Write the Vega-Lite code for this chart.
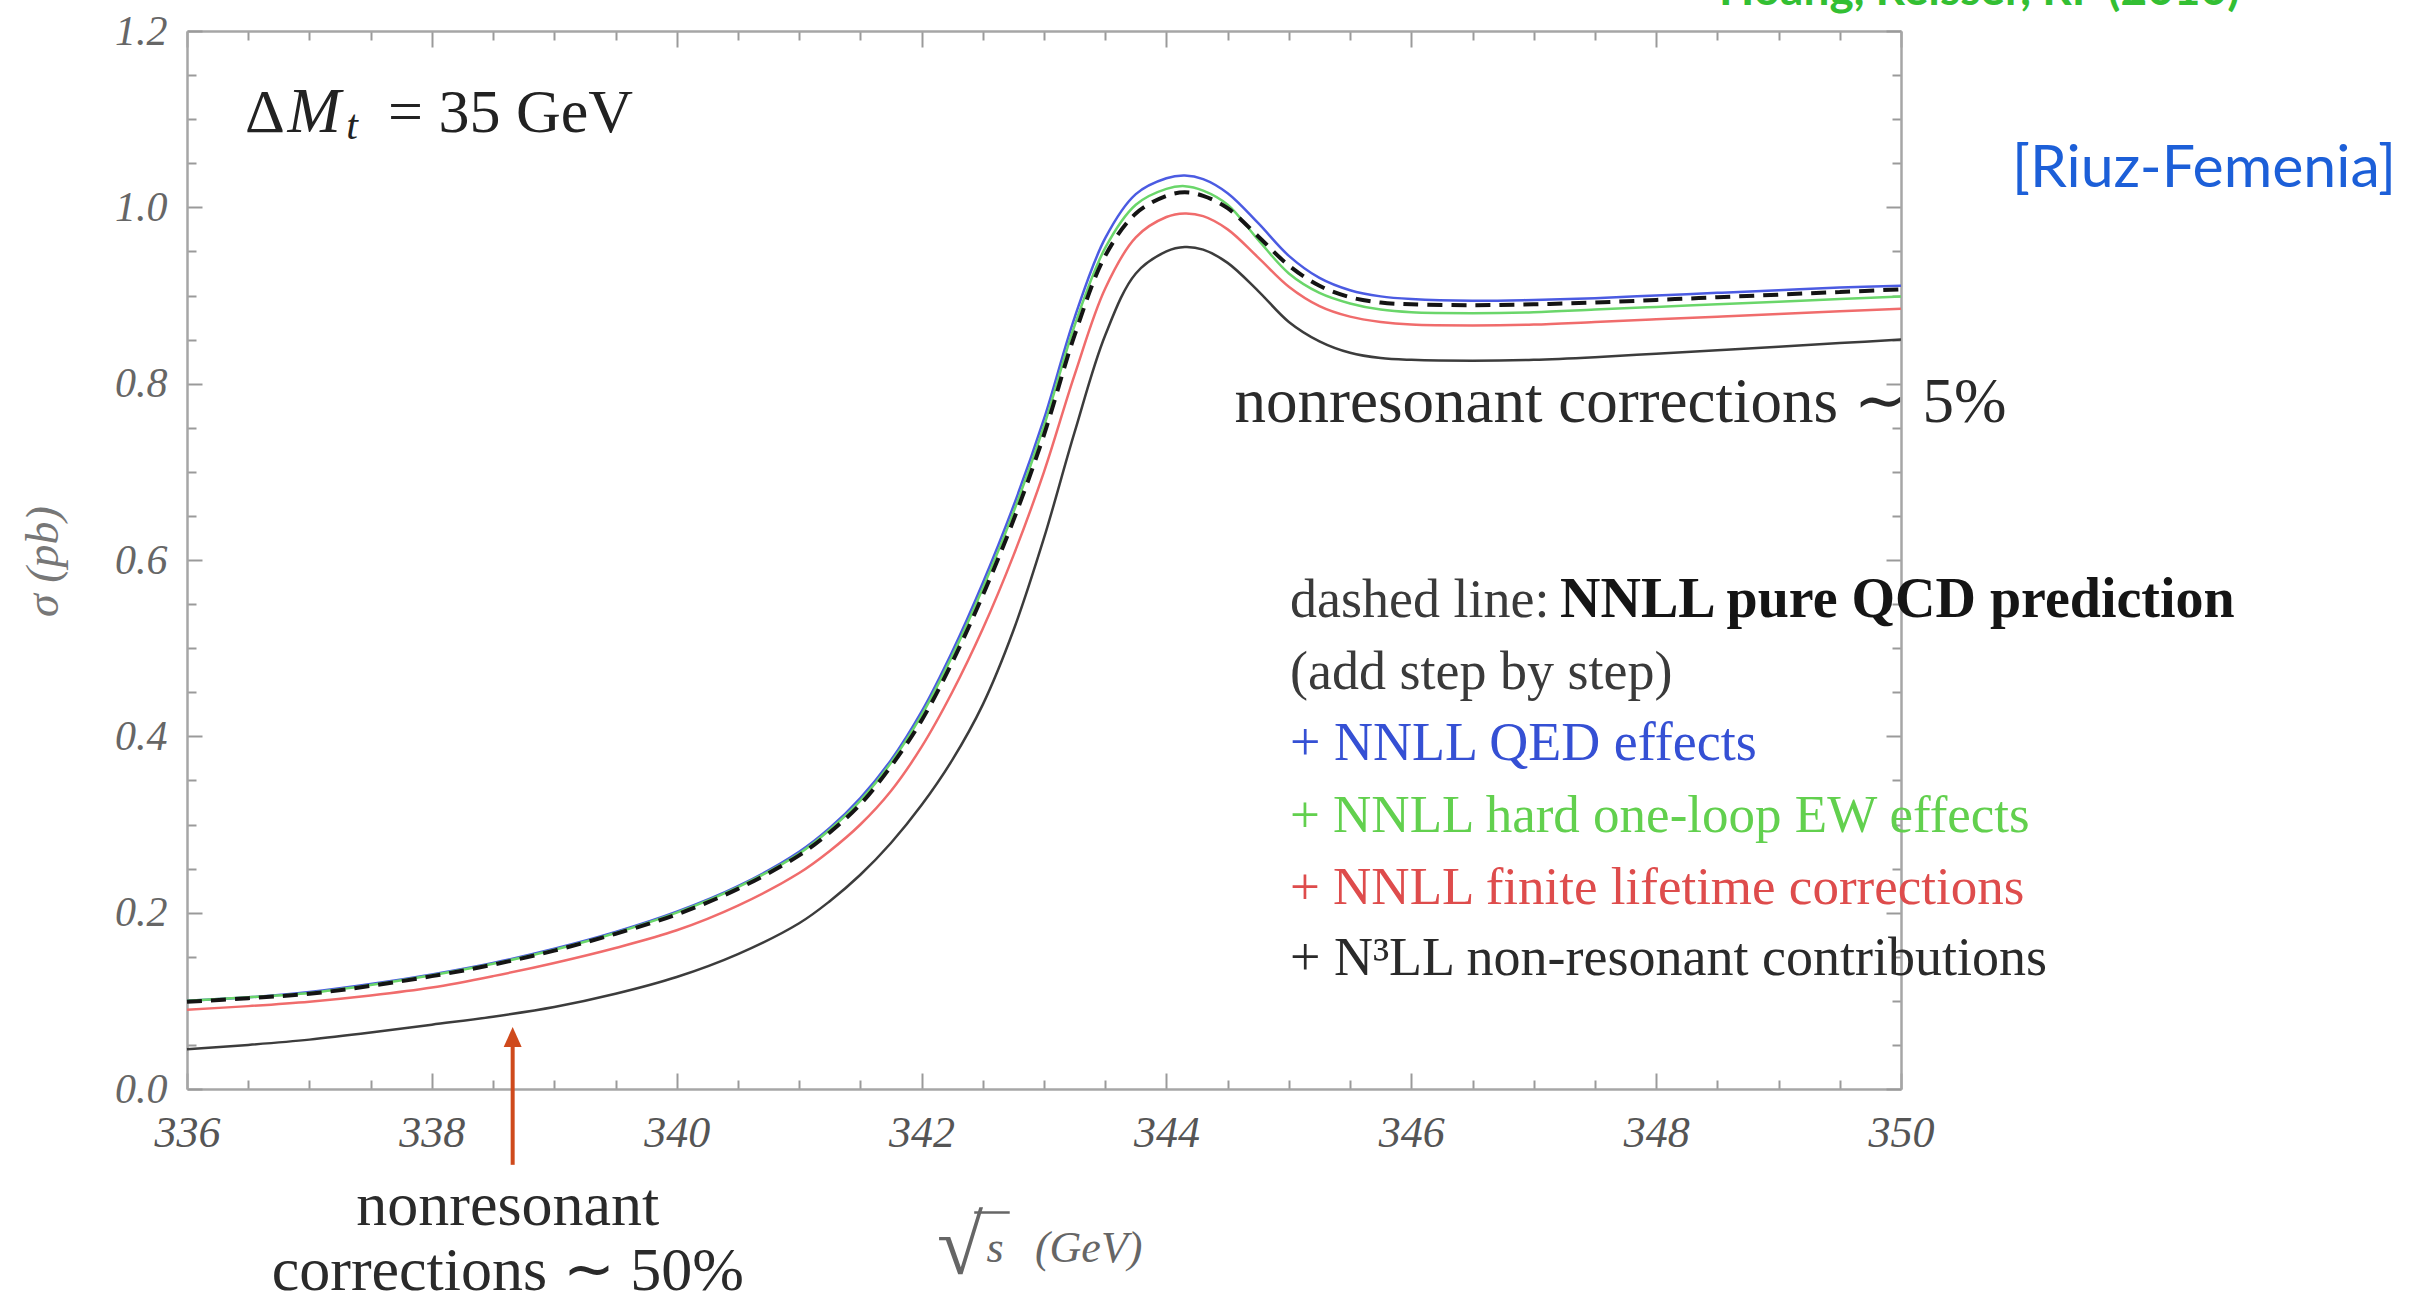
{
  "$schema": "https://vega.github.io/schema/vega-lite/v6.json",
  "width": 1714,
  "height": 1058,
  "autosize": {"type": "none"},
  "padding": {"left": 187, "top": 31, "right": 517, "bottom": 213},
  "background": "white",
  "config": {
    "view": {"stroke": null},
    "axis": {
      "grid": false,
      "domainColor": "#a6a6a6",
      "domainWidth": 2.5,
      "tickColor": "#9a9a9a",
      "tickWidth": 2,
      "labelFont": "Liberation Serif",
      "labelFontStyle": "italic",
      "labelColor": "#555555",
      "labelOverlap": false,
      "labelFlush": false,
      "labelBound": false
    }
  },
  "datasets": {
    "curves": [
      {"s": 336, "QED": 0.100, "EW": 0.100, "QCD": 0.099, "FL": 0.090, "N3LL": 0.045},
      {"s": 336.5, "QED": 0.104, "EW": 0.104, "QCD": 0.103, "FL": 0.094, "N3LL": 0.050},
      {"s": 337, "QED": 0.110, "EW": 0.109, "QCD": 0.108, "FL": 0.099, "N3LL": 0.056},
      {"s": 337.5, "QED": 0.119, "EW": 0.118, "QCD": 0.117, "FL": 0.106, "N3LL": 0.064},
      {"s": 338, "QED": 0.130, "EW": 0.129, "QCD": 0.128, "FL": 0.115, "N3LL": 0.073},
      {"s": 338.5, "QED": 0.143, "EW": 0.142, "QCD": 0.141, "FL": 0.128, "N3LL": 0.082},
      {"s": 339, "QED": 0.159, "EW": 0.158, "QCD": 0.157, "FL": 0.143, "N3LL": 0.093},
      {"s": 339.5, "QED": 0.178, "EW": 0.177, "QCD": 0.176, "FL": 0.160, "N3LL": 0.108},
      {"s": 340, "QED": 0.201, "EW": 0.200, "QCD": 0.198, "FL": 0.180, "N3LL": 0.127},
      {"s": 340.5, "QED": 0.230, "EW": 0.229, "QCD": 0.227, "FL": 0.208, "N3LL": 0.153},
      {"s": 341, "QED": 0.269, "EW": 0.267, "QCD": 0.265, "FL": 0.245, "N3LL": 0.188},
      {"s": 341.25, "QED": 0.296, "EW": 0.294, "QCD": 0.291, "FL": 0.270, "N3LL": 0.213},
      {"s": 341.5, "QED": 0.330, "EW": 0.327, "QCD": 0.323, "FL": 0.300, "N3LL": 0.243},
      {"s": 341.75, "QED": 0.373, "EW": 0.370, "QCD": 0.366, "FL": 0.338, "N3LL": 0.279},
      {"s": 342, "QED": 0.428, "EW": 0.424, "QCD": 0.418, "FL": 0.388, "N3LL": 0.322},
      {"s": 342.25, "QED": 0.496, "EW": 0.491, "QCD": 0.484, "FL": 0.450, "N3LL": 0.373},
      {"s": 342.5, "QED": 0.574, "EW": 0.568, "QCD": 0.560, "FL": 0.522, "N3LL": 0.436},
      {"s": 342.75, "QED": 0.661, "EW": 0.654, "QCD": 0.645, "FL": 0.605, "N3LL": 0.520},
      {"s": 343, "QED": 0.760, "EW": 0.752, "QCD": 0.742, "FL": 0.700, "N3LL": 0.625},
      {"s": 343.25, "QED": 0.875, "EW": 0.866, "QCD": 0.855, "FL": 0.810, "N3LL": 0.745},
      {"s": 343.5, "QED": 0.965, "EW": 0.954, "QCD": 0.945, "FL": 0.908, "N3LL": 0.855},
      {"s": 343.75, "QED": 1.015, "EW": 1.003, "QCD": 0.993, "FL": 0.966, "N3LL": 0.925},
      {"s": 344, "QED": 1.033, "EW": 1.021, "QCD": 1.013, "FL": 0.989, "N3LL": 0.950},
      {"s": 344.15, "QED": 1.036, "EW": 1.024, "QCD": 1.017, "FL": 0.993, "N3LL": 0.955},
      {"s": 344.3, "QED": 1.032, "EW": 1.019, "QCD": 1.013, "FL": 0.990, "N3LL": 0.952},
      {"s": 344.5, "QED": 1.016, "EW": 1.003, "QCD": 0.999, "FL": 0.975, "N3LL": 0.937},
      {"s": 344.75, "QED": 0.982, "EW": 0.963, "QCD": 0.967, "FL": 0.943, "N3LL": 0.905},
      {"s": 345, "QED": 0.945, "EW": 0.925, "QCD": 0.934, "FL": 0.910, "N3LL": 0.870},
      {"s": 345.25, "QED": 0.920, "EW": 0.903, "QCD": 0.911, "FL": 0.888, "N3LL": 0.848},
      {"s": 345.5, "QED": 0.906, "EW": 0.891, "QCD": 0.898, "FL": 0.876, "N3LL": 0.835},
      {"s": 345.75, "QED": 0.899, "EW": 0.884, "QCD": 0.892, "FL": 0.870, "N3LL": 0.829},
      {"s": 346, "QED": 0.896, "EW": 0.881, "QCD": 0.890, "FL": 0.867, "N3LL": 0.827},
      {"s": 346.5, "QED": 0.894, "EW": 0.880, "QCD": 0.889, "FL": 0.866, "N3LL": 0.826},
      {"s": 347, "QED": 0.895, "EW": 0.881, "QCD": 0.890, "FL": 0.867, "N3LL": 0.827},
      {"s": 347.5, "QED": 0.897, "EW": 0.884, "QCD": 0.892, "FL": 0.870, "N3LL": 0.830},
      {"s": 348, "QED": 0.900, "EW": 0.887, "QCD": 0.895, "FL": 0.873, "N3LL": 0.834},
      {"s": 348.5, "QED": 0.903, "EW": 0.890, "QCD": 0.898, "FL": 0.876, "N3LL": 0.838},
      {"s": 349, "QED": 0.906, "EW": 0.893, "QCD": 0.901, "FL": 0.879, "N3LL": 0.842},
      {"s": 349.5, "QED": 0.909, "EW": 0.896, "QCD": 0.904, "FL": 0.882, "N3LL": 0.846},
      {"s": 350, "QED": 0.911, "EW": 0.899, "QCD": 0.907, "FL": 0.885, "N3LL": 0.850}
    ]
  },
  "data": {"name": "curves"},
  "resolve": {"axis": {"x": "independent", "y": "independent"}},
  "layer": [
    {
      "transform": [{"fold": ["QED", "EW", "FL", "N3LL"], "as": ["series", "sigma"]}],
      "mark": {"type": "line", "strokeWidth": 2.5, "interpolate": "catmull-rom"},
      "encoding": {
        "x": {
          "field": "s", "type": "quantitative",
          "scale": {"domain": [336, 350], "nice": false, "zero": false},
          "axis": {
            "orient": "bottom", "title": null,
            "values": [336, 336.5, 337, 337.5, 338, 338.5, 339, 339.5, 340, 340.5, 341, 341.5, 342, 342.5, 343, 343.5, 344, 344.5, 345, 345.5, 346, 346.5, 347, 347.5, 348, 348.5, 349, 349.5, 350],
            "labelExpr": "datum.value % 2 == 0 ? format(datum.value, 'd') : ''",
            "tickSize": {"condition": {"test": "datum.value % 2 == 0", "value": -16}, "value": -9},
            "labelFontSize": 44,
            "labelBaseline": "top",
            "labelPadding": 38
          }
        },
        "y": {
          "field": "sigma", "type": "quantitative",
          "scale": {"domain": [0, 1.2], "nice": false, "zero": false},
          "axis": {
            "orient": "left",
            "values": [0, 0.05, 0.1, 0.15, 0.2, 0.25, 0.3, 0.35, 0.4, 0.45, 0.5, 0.55, 0.6, 0.65, 0.7, 0.75, 0.8, 0.85, 0.9, 0.95, 1.0, 1.05, 1.1, 1.15, 1.2],
            "labelExpr": "abs(datum.value*5 - round(datum.value*5)) < 0.001 ? format(datum.value, '.1f') : ''",
            "tickSize": {"condition": {"test": "abs(datum.value*5 - round(datum.value*5)) < 0.001", "value": -15}, "value": -9},
            "labelFontSize": 42,
            "labelColor": "#666666",
            "labelAlign": "right",
            "labelBaseline": "middle",
            "labelPadding": 35,
            "title": "σ (pb)",
            "titleFont": "Liberation Serif",
            "titleFontStyle": "italic",
            "titleFontWeight": "normal",
            "titleFontSize": 46,
            "titleColor": "#777777",
            "titleAngle": 270,
            "titleX": -130,
            "titleY": 530,
            "titleAlign": "center",
            "titleBaseline": "alphabetic"
          }
        },
        "color": {
          "field": "series", "type": "nominal",
          "scale": {"domain": ["QED", "EW", "FL", "N3LL"], "range": ["#4b5be2", "#6ad66a", "#f06c6c", "#3c3c3c"]},
          "legend": null
        }
      }
    },
    {
      "mark": {"type": "line", "strokeWidth": 4, "strokeDash": [15, 9], "color": "#141414", "interpolate": "catmull-rom"},
      "encoding": {
        "x": {
          "field": "s", "type": "quantitative",
          "axis": {
            "orient": "top", "title": null, "labels": false,
            "values": [336, 336.5, 337, 337.5, 338, 338.5, 339, 339.5, 340, 340.5, 341, 341.5, 342, 342.5, 343, 343.5, 344, 344.5, 345, 345.5, 346, 346.5, 347, 347.5, 348, 348.5, 349, 349.5, 350],
            "tickSize": {"condition": {"test": "datum.value % 2 == 0", "value": -16}, "value": -9}
          }
        },
        "y": {
          "field": "QCD", "type": "quantitative",
          "axis": {
            "orient": "right", "title": null, "labels": false,
            "values": [0, 0.05, 0.1, 0.15, 0.2, 0.25, 0.3, 0.35, 0.4, 0.45, 0.5, 0.55, 0.6, 0.65, 0.7, 0.75, 0.8, 0.85, 0.9, 0.95, 1.0, 1.05, 1.1, 1.15, 1.2],
            "tickSize": {"condition": {"test": "abs(datum.value*5 - round(datum.value*5)) < 0.001", "value": -15}, "value": -9}
          }
        }
      }
    },
    {
      "data": {"values": [{}]},
      "mark": {"type": "text", "text": "Δ", "font": "Liberation Serif", "fontSize": 62, "align": "left", "baseline": "alphabetic", "fill": "#222222"},
      "encoding": {"x": {"datum": 336.474, "type": "quantitative", "axis": null}, "y": {"datum": 1.0854, "type": "quantitative", "axis": null}}
    },
    {
      "data": {"values": [{}]},
      "mark": {"type": "text", "text": "M", "font": "Liberation Serif", "fontStyle": "italic", "fontSize": 64, "align": "left", "baseline": "alphabetic", "fill": "#222222"},
      "encoding": {"x": {"datum": 336.82, "type": "quantitative", "axis": null}, "y": {"datum": 1.0854, "type": "quantitative", "axis": null}}
    },
    {
      "data": {"values": [{}]},
      "mark": {"type": "text", "text": "t", "font": "Liberation Serif", "fontStyle": "italic", "fontSize": 42, "align": "left", "baseline": "alphabetic", "fill": "#222222"},
      "encoding": {"x": {"datum": 337.3, "type": "quantitative", "axis": null}, "y": {"datum": 1.0775, "type": "quantitative", "axis": null}}
    },
    {
      "data": {"values": [{}]},
      "mark": {"type": "text", "text": "= 35 GeV", "font": "Liberation Serif", "fontSize": 62, "align": "left", "baseline": "alphabetic", "fill": "#222222"},
      "encoding": {"x": {"datum": 337.642, "type": "quantitative", "axis": null}, "y": {"datum": 1.0854, "type": "quantitative", "axis": null}}
    },
    {
      "data": {"values": [{}]},
      "mark": {"type": "text", "text": "nonresonant corrections ∼ 5%", "font": "Liberation Serif", "fontSize": 63, "align": "left", "baseline": "alphabetic", "fill": "#2a2a2a"},
      "encoding": {"x": {"datum": 344.556, "type": "quantitative", "axis": null}, "y": {"datum": 0.7565, "type": "quantitative", "axis": null}}
    },
    {
      "data": {"values": [{}]},
      "mark": {"type": "text", "text": ["nonresonant", "corrections ∼ 50%"], "lineHeight": 65, "font": "Liberation Serif", "fontSize": 62, "align": "center", "baseline": "alphabetic", "fill": "#2a2a2a"},
      "encoding": {"x": {"datum": 338.62, "type": "quantitative", "axis": null}, "y": {"datum": -0.1543, "type": "quantitative", "axis": null}}
    },
    {
      "data": {"values": [{}]},
      "mark": {"type": "text", "text": "dashed line:", "font": "Liberation Serif", "fontSize": 54, "align": "left", "baseline": "alphabetic", "fill": "#3a3a3a"},
      "encoding": {"x": {"datum": 345.009, "type": "quantitative", "axis": null}, "y": {"datum": 0.5354, "type": "quantitative", "axis": null}}
    },
    {
      "data": {"values": [{}]},
      "mark": {"type": "text", "text": "NNLL pure QCD prediction", "font": "Liberation Serif", "fontWeight": "bold", "fontSize": 56, "align": "left", "baseline": "alphabetic", "fill": "#151515"},
      "encoding": {"x": {"datum": 347.215, "type": "quantitative", "axis": null}, "y": {"datum": 0.5354, "type": "quantitative", "axis": null}}
    },
    {
      "data": {"values": [{}]},
      "mark": {"type": "text", "text": "(add step by step)", "font": "Liberation Serif", "fontSize": 54, "align": "left", "baseline": "alphabetic", "fill": "#3a3a3a"},
      "encoding": {"x": {"datum": 345.009, "type": "quantitative", "axis": null}, "y": {"datum": 0.4537, "type": "quantitative", "axis": null}}
    },
    {
      "data": {"values": [{}]},
      "mark": {"type": "text", "text": "+ NNLL QED effects", "font": "Liberation Serif", "fontSize": 54, "align": "left", "baseline": "alphabetic", "fill": "#3550d4"},
      "encoding": {"x": {"datum": 345.009, "type": "quantitative", "axis": null}, "y": {"datum": 0.3732, "type": "quantitative", "axis": null}}
    },
    {
      "data": {"values": [{}]},
      "mark": {"type": "text", "text": "+ NNLL hard one-loop EW effects", "font": "Liberation Serif", "fontSize": 53, "align": "left", "baseline": "alphabetic", "fill": "#62d04e"},
      "encoding": {"x": {"datum": 345.009, "type": "quantitative", "axis": null}, "y": {"datum": 0.2915, "type": "quantitative", "axis": null}}
    },
    {
      "data": {"values": [{}]},
      "mark": {"type": "text", "text": "+ NNLL finite lifetime corrections", "font": "Liberation Serif", "fontSize": 53, "align": "left", "baseline": "alphabetic", "fill": "#de4c4c"},
      "encoding": {"x": {"datum": 345.009, "type": "quantitative", "axis": null}, "y": {"datum": 0.2099, "type": "quantitative", "axis": null}}
    },
    {
      "data": {"values": [{}]},
      "mark": {"type": "text", "text": "+ N³LL non-resonant contributions", "font": "Liberation Serif", "fontSize": 54, "align": "left", "baseline": "alphabetic", "fill": "#2a2a2a"},
      "encoding": {"x": {"datum": 345.009, "type": "quantitative", "axis": null}, "y": {"datum": 0.1293, "type": "quantitative", "axis": null}}
    },
    {
      "data": {"values": [{}]},
      "mark": {"type": "text", "text": "[Riuz-Femenia]", "font": "Lato", "fontSize": 59, "align": "left", "baseline": "alphabetic", "fill": "#1c5fd8"},
      "encoding": {"x": {"datum": 350.906, "type": "quantitative", "axis": null}, "y": {"datum": 1.0231, "type": "quantitative", "axis": null}}
    },
    {
      "data": {"values": [{}]},
      "mark": {"type": "text", "text": "Hoang, Reisser, RF (2010)", "font": "Lato", "fontWeight": "bold", "fontSize": 46, "align": "left", "baseline": "alphabetic", "fill": "#33bf33"},
      "encoding": {"x": {"datum": 348.513, "type": "quantitative", "axis": null}, "y": {"datum": 1.2295, "type": "quantitative", "axis": null}}
    },
    {
      "data": {"values": [{}]},
      "mark": {"type": "text", "text": "√", "font": "Liberation Serif", "fontSize": 84, "align": "left", "baseline": "alphabetic", "fill": "#666666"},
      "encoding": {"x": {"datum": 342.126, "type": "quantitative", "axis": null}, "y": {"datum": -0.2098, "type": "quantitative", "axis": null}}
    },
    {
      "data": {"values": [{}]},
      "mark": {"type": "text", "text": "s", "font": "Liberation Serif", "fontStyle": "italic", "fontSize": 44, "align": "left", "baseline": "alphabetic", "fill": "#666666"},
      "encoding": {"x": {"datum": 342.53, "type": "quantitative", "axis": null}, "y": {"datum": -0.1962, "type": "quantitative", "axis": null}}
    },
    {
      "data": {"values": [{}]},
      "mark": {"type": "text", "text": "(GeV)", "font": "Liberation Serif", "fontStyle": "italic", "fontSize": 44, "align": "left", "baseline": "alphabetic", "fill": "#666666"},
      "encoding": {"x": {"datum": 342.926, "type": "quantitative", "axis": null}, "y": {"datum": -0.1962, "type": "quantitative", "axis": null}}
    },
    {
      "data": {"values": [{}]},
      "mark": {"type": "rule", "strokeWidth": 2.5, "color": "#666666"},
      "encoding": {"x": {"datum": 342.43, "type": "quantitative", "axis": null}, "x2": {"datum": 342.72}, "y": {"datum": -0.1400, "type": "quantitative", "axis": null}}
    },
    {
      "data": {"values": [{}]},
      "mark": {"type": "rule", "strokeWidth": 4, "color": "#cf4a1c"},
      "encoding": {"x": {"datum": 338.66, "type": "quantitative", "axis": null}, "y": {"datum": -0.086, "type": "quantitative", "axis": null}, "y2": {"datum": 0.05}}
    },
    {
      "data": {"values": [{}]},
      "mark": {"type": "point", "shape": "M0,-1L0.9,1L-0.9,1Z", "size": 400, "filled": true, "opacity": 1, "color": "#cf4a1c"},
      "encoding": {"x": {"datum": 338.66, "type": "quantitative", "axis": null}, "y": {"datum": 0.059, "type": "quantitative", "axis": null}}
    }
  ]
}
